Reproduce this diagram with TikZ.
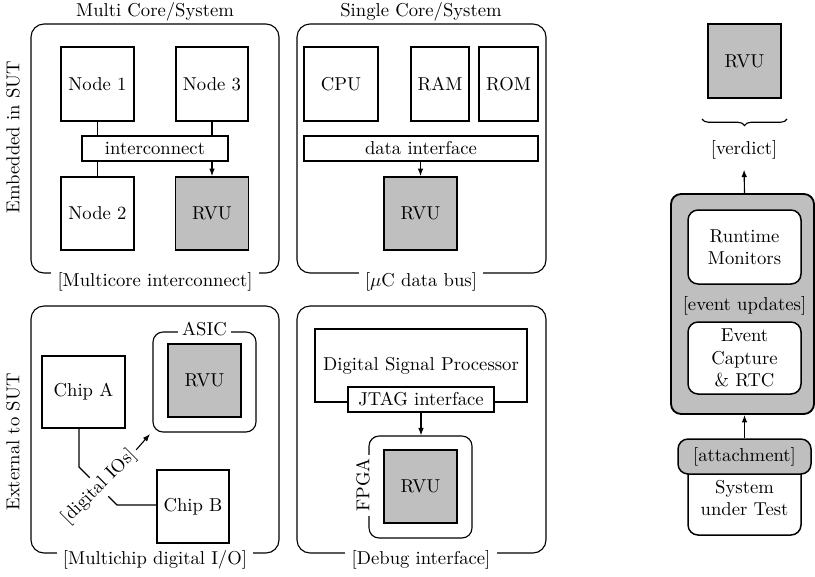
\documentclass[tikz,border=0pt]{standalone}
\usetikzlibrary{arrows.meta,decorations.pathreplacing,calc}
\newcommand\pxu{0.536pt}
\begin{document}
\begin{tikzpicture}[x=0.536pt,y=-0.536pt,
  blk/.style={draw,line width=0.6pt,fill=white,inner sep=0pt,align=center},
  rvu/.style={draw,line width=1pt,fill=black!25,inner sep=0pt,minimum width=73*\pxu,minimum height=73*\pxu},
  panel/.style={draw,line width=0.6pt,rounded corners=7pt},
  chipbox/.style={draw,line width=0.6pt,rounded corners=5.4pt,inner sep=0pt},
  lbl/.style={fill=white},
  arr/.style={-{Latex[length=4pt,width=3pt]},line width=0.6pt},
  ln/.style={line width=0.6pt},
  rnd/.style={draw,rounded corners=5.4pt,inner sep=0pt,align=center}]
\useasboundingbox (0,0) rectangle (815,576);

% ---------- Panel A: multi core ----------
\draw[panel] (31,24) rectangle (279,273);
\node (tA) at (155,12) {Multi Core/System};
\node[lbl] (bA) at (155,282) {[Multicore interconnect]};
\node[rotate=90] (sideA) at (13,137) {Embedded in SUT};
\node[blk,minimum width=73*\pxu,minimum height=74*\pxu] (n1) at (97.5,84) {Node 1};
\node[blk,minimum width=72*\pxu,minimum height=74*\pxu] (n3) at (212,84) {Node 3};
\node[blk,minimum width=146*\pxu,minimum height=25*\pxu] (ic) at (155,148.5) {interconnect};
\node[blk,minimum width=73*\pxu,minimum height=73*\pxu] (n2) at (97.5,213.5) {Node 2};
\node[rvu] (r1) at (212,213.5) {RVU};
\draw[ln] (n1.south) -- (n1.south|-ic.north);
\draw[ln] (n3.south) -- (n3.south|-ic.north);
\draw[ln] (n2.north|-ic.south) -- (n2.north);
\draw[arr] (r1.north|-ic.south) -- (r1.north);

% ---------- Panel B: single core ----------
\draw[panel] (297,24) rectangle (546,273);
\node (tB) at (421,12) {Single Core/System};
\node[lbl] (bB) at (421,282) {[$\mu$C data bus]};
\node[blk,minimum width=74*\pxu,minimum height=74*\pxu] (cpu) at (341,84) {CPU};
\node[blk,minimum width=58*\pxu,minimum height=74*\pxu] (ram) at (440,84) {RAM};
\node[blk,minimum width=59*\pxu,minimum height=74*\pxu] (rom) at (508.5,84) {ROM};
\node[blk,minimum width=234*\pxu,minimum height=25*\pxu] (di) at (421,148.5) {data interface};
\node[rvu] (r2) at (420.5,213.5) {RVU};
\draw[arr] (r2.north|-di.south) -- (r2.north);

% ---------- Panel C: multichip ----------
\draw[panel] (31,306) rectangle (279,553);
\node[lbl] (bC) at (155,560) {[Multichip digital I/O]};
\node[rotate=90] (sideC) at (13,442) {External to SUT};
\node[chipbox,minimum width=103*\pxu,minimum height=100*\pxu] (asic) at (204.5,382) {};
\node[lbl,inner sep=2pt] (asicl) at (204.5,329) {ASIC};
\node[rvu] (r3) at (204.5,380.5) {RVU};
\node[blk,minimum width=83*\pxu,minimum height=72*\pxu] (chipA) at (83.5,392) {Chip A};
\node[blk,minimum width=72*\pxu,minimum height=73*\pxu] (chipB) at (193,506.5) {Chip B};
\coordinate (k1) at (79,467);
\coordinate (k2) at (117,505);
\coordinate (asictip) at (150,434);
\draw[ln] (chipA.south-|k1) -- (k1) -- (k2) -- (chipB.west|-k2);
\node[lbl,rotate=45,inner sep=2pt] (dio) at (99,487) {[digital IOs]};
\draw[arr] (dio.east) -- (asictip);

% ---------- Panel D: debug ----------
\draw[panel] (297,306) rectangle (546,553);
\node[lbl] (bD) at (421,560) {[Debug interface]};
\node[blk,minimum width=212*\pxu,minimum height=73*\pxu] (dsp) at (421,365.5) {Digital Signal Processor};
\node[blk,minimum width=146*\pxu,minimum height=25*\pxu] (jtag) at (421,399.5) {JTAG interface};
\node[chipbox,minimum width=103*\pxu,minimum height=102*\pxu] (fpga) at (420.5,487) {};
\node[lbl,rotate=90,inner sep=2pt] (fpgal) at (363,485) {FPGA};
\node[rvu] (r4) at (420.5,486.5) {RVU};
\draw[arr] (jtag.south) -- (jtag.south|-fpga.north);

% ---------- Right: architecture ----------
\node[rvu,minimum height=74*\pxu] (r5) at (744.5,61) {RVU};
\coordinate (br1) at (702,119);
\coordinate (br2) at (787,119);
\draw[line width=0.6pt,decorate,decoration={brace,mirror,amplitude=3.5pt}] (br1) -- (br2);
\node (verdict) at (744,150) {[verdict]};
\node[rnd,line width=1pt,fill=black!25,minimum width=143*\pxu,minimum height=220*\pxu] (mon) at (742.5,304) {};
\node[rnd,line width=0.8pt,fill=white,minimum width=113*\pxu,minimum height=74*\pxu] (rm) at (744.5,247) {Runtime\\Monitors};
\node (evu) at (744.5,306) {[event updates]};
\node[rnd,line width=0.8pt,fill=white,minimum width=113*\pxu,minimum height=72*\pxu] (ec) at (744.5,358) {Event\\Capture\\\& RTC};
\node[rnd,line width=0.8pt,fill=white,minimum width=113*\pxu,minimum height=74*\pxu] (sut) at (744.5,498) {System\\under Test};
\node[rnd,line width=0.8pt,fill=black!25,minimum width=133*\pxu,minimum height=35*\pxu] (att) at (744.5,456.5) {[attachment]};
\draw[arr] (att.north) -- (att.north|-mon.south);
\draw[arr,shorten >=2pt] (rm.north|-mon.north) -- (verdict.south);
\end{tikzpicture}
\end{document}
